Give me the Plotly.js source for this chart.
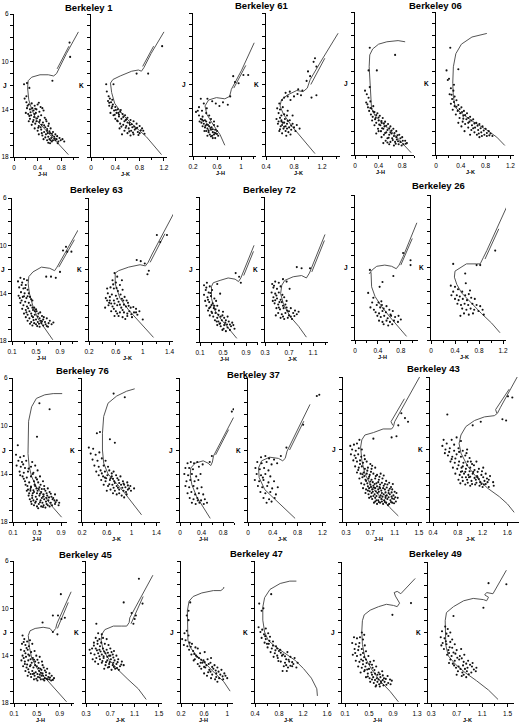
<!DOCTYPE html>
<html><head><meta charset="utf-8">
<script src="https://cdn.plot.ly/plotly-3.0.1.min.js"></script>
<style>html,body{margin:0;padding:0;background:#fff}#c{width:520px;height:726px}</style>
</head><body><div id="c"></div>
<script>
// ---------- DATA (colour, magnitude) ----------
const clusterNames = ['Berkeley 1','Berkeley 61','Berkeley 06','Berkeley 63','Berkeley 72','Berkeley 26','Berkeley 76','Berkeley 37','Berkeley 43','Berkeley 45','Berkeley 47','Berkeley 49'];
const yTickVals = [6,7,8,9,10,11,12,13,14,15,16,17,18];
const yTickText = ['6','','','','10','','','','14','','','','18'];

const B1_J_stars=[[0.21,13.4],[0.25,13.6],[0.30,13.5],[0.35,13.7],[0.40,13.6],[0.45,13.8],[0.48,13.9],[0.22,13.9],[0.27,14.0],[0.33,14.1],[0.38,14.0],[0.43,14.2],[0.50,14.1],[0.20,14.3],[0.24,14.4],[0.29,14.5],[0.35,14.4],[0.41,14.6],[0.46,14.5],[0.52,14.7],[0.27,14.8],[0.33,14.9],[0.38,15.0],[0.44,14.9],[0.49,15.1],[0.55,15.0],[0.30,15.3],[0.36,15.2],[0.42,15.4],[0.47,15.3],[0.53,15.5],[0.58,15.4],[0.62,15.6],[0.35,15.6],[0.40,15.8],[0.46,15.7],[0.51,15.9],[0.56,15.8],[0.61,16.0],[0.66,15.9],[0.70,16.1],[0.42,16.1],[0.48,16.2],[0.54,16.1],[0.58,16.3],[0.63,16.4],[0.68,16.3],[0.72,16.5],[0.77,16.4],[0.50,16.5],[0.56,16.6],[0.60,16.5],[0.64,16.7],[0.70,16.6],[0.75,16.7],[0.82,16.5],[0.58,16.8],[0.62,16.6],[0.37,14.3],[0.31,13.9],[0.25,15.0],[0.45,15.5],[0.57,16.0],[0.66,16.6],[0.18,13.1],[0.21,12.9],[0.17,11.9],[0.22,11.8],[0.26,12.2],[0.65,11.6],[0.94,8.4],[0.95,9.6],
 [0.23,13.7],[0.28,14.25],[0.34,14.65],[0.39,14.75],[0.43,15.05],[0.51,15.35],[0.56,15.65],[0.60,15.85],[0.65,16.2],[0.69,16.45],[0.73,16.25],[0.79,16.6],[0.53,16.35],[0.47,16.0],[0.41,15.55],[0.32,15.05],[0.26,14.55],[0.36,13.95],[0.42,13.45],[0.54,14.85],[0.59,15.2],[0.64,16.05],[0.74,16.85],[0.85,16.7],[0.61,16.85]];
const B1_J_iso=[[0.92,17.8],[0.81,17.2],[0.67,16.5],[0.53,15.7],[0.38,14.9],[0.30,14.0],[0.25,13.2],[0.23,12.2],[0.24,11.6],[0.30,11.3],[0.44,11.1],[0.58,11.1],[0.67,11.2],[0.72,11.0],[0.78,10.4],[0.89,9.3],[1.09,7.5],null,[0.73,10.6],[0.93,8.7]];
const B1_K_stars=[[0.29,12.9],[0.31,13.1],[0.28,13.3],[0.33,13.4],[0.36,13.6],[0.30,13.7],[0.40,13.8],[0.34,13.9],[0.44,14.0],[0.38,14.1],[0.48,14.2],[0.32,14.3],[0.42,14.3],[0.52,14.4],[0.37,14.5],[0.46,14.6],[0.56,14.5],[0.60,14.7],[0.40,14.8],[0.50,14.8],[0.65,14.9],[0.44,15.0],[0.55,15.0],[0.60,15.1],[0.70,15.0],[0.48,15.2],[0.53,15.3],[0.64,15.3],[0.75,15.2],[0.58,15.4],[0.68,15.5],[0.80,15.4],[0.47,15.6],[0.62,15.6],[0.72,15.7],[0.84,15.6],[0.55,15.8],[0.66,15.8],[0.77,15.9],[0.86,15.8],[0.60,16.0],[0.70,16.1],[0.80,16.0],[0.51,16.1],[0.74,15.6],[0.57,14.9],[0.35,13.2],[0.26,12.5],[0.45,14.3],[0.65,16.2],[0.25,11.9],[0.37,11.9],[0.75,11.0],[0.94,11.0],[1.17,8.7],
 [0.30,13.45],[0.35,13.75],[0.41,14.05],[0.46,14.45],[0.53,14.65],[0.58,14.85],[0.63,15.15],[0.67,15.25],[0.71,15.45],[0.76,15.55],[0.82,15.75],[0.63,15.85],[0.57,15.55],[0.50,15.45],[0.43,14.95],[0.39,14.45],[0.49,14.05],[0.69,15.95],[0.78,16.15],[0.88,16.05]];
const B1_K_iso=[[1.16,17.8],[1.05,17.1],[0.91,16.3],[0.69,15.3],[0.53,14.5],[0.39,13.5],[0.34,12.6],[0.32,11.8],[0.36,11.5],[0.48,11.2],[0.67,10.8],[0.78,10.7],[0.83,10.8],[0.87,10.5],[0.99,9.3],[1.20,7.5],null,[0.85,10.4],[1.03,8.7]];

const B61_J_stars=[[0.30,14.6],[0.33,14.9],[0.36,14.7],[0.40,15.0],[0.34,15.2],[0.38,15.3],[0.42,15.1],[0.45,15.4],[0.48,15.2],[0.36,15.5],[0.40,15.6],[0.44,15.7],[0.47,15.5],[0.51,15.6],[0.55,15.4],[0.42,15.9],[0.46,16.0],[0.50,15.8],[0.53,16.0],[0.57,15.8],[0.60,15.9],[0.48,16.2],[0.52,16.3],[0.55,16.2],[0.58,16.1],[0.62,16.3],[0.53,16.5],[0.57,16.5],[0.44,16.3],[0.39,15.9],[0.31,15.1],[0.28,14.2],[0.30,13.9],[0.35,14.2],[0.42,14.4],[0.47,14.6],[0.38,13.6],[0.33,13.2],[0.44,13.2],[0.52,13.4],[0.58,13.6],[0.64,13.8],[0.70,13.5],[0.78,13.7],[0.82,13.0],[0.87,11.3],[0.96,11.9],[1.04,11.2],[1.12,11.2],[0.90,11.8],[0.43,14.0],[0.50,14.9],[0.55,15.1],[0.61,15.5],[0.25,14.3],
 [0.37,15.05],[0.43,15.35],[0.49,15.65],[0.53,15.75],[0.56,16.05],[0.60,16.15],[0.50,16.35],[0.46,15.85],[0.41,15.45],[0.35,14.95]];
const B61_J_iso=[[0.73,17.1],[0.65,16.2],[0.54,15.4],[0.43,14.5],[0.40,13.8],[0.43,13.6],[0.46,13.3],[0.59,13.1],[0.73,13.2],[0.81,13.0],[0.84,12.4],[1.01,10.8],[1.22,8.5],null,[0.88,12.3],[1.08,10.4]];
const B61_K_stars=[[0.56,14.0],[0.58,14.4],[0.60,14.8],[0.62,15.1],[0.57,15.3],[0.61,15.5],[0.65,15.7],[0.59,15.9],[0.64,15.2],[0.67,14.9],[0.70,15.3],[0.73,15.6],[0.68,15.9],[0.72,16.0],[0.76,15.8],[0.66,14.5],[0.70,14.6],[0.74,15.0],[0.78,15.3],[0.80,15.6],[0.84,15.4],[0.88,15.7],[0.63,16.1],[0.69,16.3],[0.60,14.1],[0.64,13.9],[0.59,13.6],[0.63,13.3],[0.66,13.1],[0.71,13.0],[0.75,13.3],[0.80,13.0],[0.85,12.8],[0.90,12.9],[0.68,12.7],[0.74,12.6],[0.86,12.4],[0.92,12.5],[0.98,11.7],[1.03,11.3],[1.08,10.1],[1.10,9.8],[1.12,10.5],[1.00,10.9],[1.12,12.9],[1.05,13.1],[0.55,14.9],[0.62,14.6],[0.68,15.5],[0.75,16.2],[0.82,15.9],[0.58,15.1],[0.71,14.2],[0.78,14.6],
 [0.63,15.4],[0.66,15.55],[0.70,15.7],[0.62,15.0],[0.66,15.2],[0.71,15.05],[0.76,15.45],[0.60,15.75]];
const B61_K_iso=[[1.10,17.8],[0.93,16.6],[0.77,15.5],[0.65,14.5],[0.60,13.8],[0.62,13.3],[0.70,12.9],[0.84,12.5],[0.93,12.6],[0.99,12.3],[1.03,11.6],[1.17,10.2],[1.43,7.7],null,[1.04,12.0],[1.24,9.8]];

const B06_J_stars=[[0.17,12.6],[0.20,12.9],[0.23,13.2],[0.19,13.6],[0.26,13.5],[0.22,14.0],[0.28,14.1],[0.31,13.9],[0.24,14.3],[0.33,14.4],[0.27,14.6],[0.38,14.5],[0.30,14.8],[0.42,14.7],[0.35,14.9],[0.47,14.9],[0.29,15.1],[0.40,15.1],[0.51,15.2],[0.36,15.3],[0.45,15.3],[0.56,15.4],[0.33,15.5],[0.43,15.5],[0.50,15.6],[0.60,15.6],[0.39,15.8],[0.48,15.8],[0.55,15.9],[0.65,15.8],[0.44,16.0],[0.53,16.1],[0.60,16.1],[0.70,16.0],[0.36,16.2],[0.49,16.3],[0.58,16.3],[0.66,16.4],[0.75,16.3],[0.45,16.5],[0.55,16.6],[0.63,16.6],[0.71,16.7],[0.80,16.5],[0.52,16.8],[0.60,16.9],[0.68,16.9],[0.77,16.9],[0.85,16.8],[0.58,17.1],[0.66,17.2],[0.74,17.1],[0.82,17.1],[0.88,17.0],[0.62,16.2],[0.70,16.5],[0.25,12.3],[0.23,10.9],[0.37,10.9],[0.25,9.0],[0.68,9.6],[0.40,16.0],[0.48,17.0],
 [0.21,13.75],[0.26,14.05],[0.31,14.35],[0.36,14.65],[0.40,14.85],[0.45,15.15],[0.49,15.35],[0.53,15.55],[0.58,15.75],[0.62,15.95],[0.67,16.15],[0.72,16.35],[0.77,16.6],[0.81,16.8],[0.86,17.05],[0.64,16.75],[0.57,16.55],[0.51,16.15],[0.46,15.75],[0.41,15.45],[0.34,15.0],[0.73,16.85],[0.79,17.2],[0.69,17.05],[0.55,16.95]];
const B06_J_iso=[[0.95,17.8],[0.79,16.9],[0.65,16.2],[0.48,15.4],[0.34,14.7],[0.28,14.1],[0.27,13.4],[0.25,12.0],[0.24,10.6],[0.25,9.6],[0.30,9.1],[0.40,8.7],[0.54,8.5],[0.73,8.4],[0.85,8.5]];
const B06_K_stars=[[0.17,10.9],[0.21,11.6],[0.19,11.7],[0.36,10.8],[0.23,9.0],[0.24,12.4],[0.28,12.6],[0.22,12.9],[0.30,13.1],[0.26,13.3],[0.33,13.4],[0.24,13.7],[0.36,13.8],[0.30,13.9],[0.41,14.0],[0.27,14.2],[0.35,14.3],[0.45,14.3],[0.39,14.5],[0.50,14.5],[0.32,14.6],[0.44,14.7],[0.55,14.8],[0.38,14.9],[0.49,15.0],[0.60,15.0],[0.43,15.2],[0.54,15.2],[0.65,15.3],[0.47,15.4],[0.58,15.5],[0.70,15.4],[0.52,15.7],[0.63,15.7],[0.75,15.6],[0.41,15.6],[0.57,15.9],[0.68,15.9],[0.80,15.8],[0.62,16.1],[0.73,16.1],[0.85,16.0],[0.66,16.3],[0.78,16.3],[0.88,16.2],[0.70,16.5],[0.82,16.4],[0.46,16.0],[0.55,16.3],[0.36,15.3],[0.29,12.1],
 [0.25,12.95],[0.29,13.55],[0.33,13.95],[0.38,14.15],[0.42,14.4],[0.47,14.65],[0.52,14.9],[0.57,15.1],[0.62,15.35],[0.67,15.55],[0.72,15.75],[0.77,15.95],[0.82,16.15],[0.86,16.35],[0.60,15.75],[0.52,15.3],[0.44,14.95],[0.74,16.4],[0.91,16.4],[0.69,16.2]];
const B06_K_iso=[[1.11,17.2],[0.98,16.5],[0.82,15.9],[0.60,15.2],[0.41,14.5],[0.31,14.0],[0.28,13.1],[0.27,12.0],[0.28,10.6],[0.32,9.5],[0.41,8.7],[0.58,8.1],[0.82,7.8]];

const B63_J_stars=[[0.24,12.7],[0.30,12.8],[0.35,12.9],[0.27,13.1],[0.33,13.3],[0.22,13.5],[0.29,13.6],[0.36,13.7],[0.25,13.9],[0.31,14.0],[0.38,14.0],[0.21,14.2],[0.28,14.3],[0.34,14.4],[0.40,14.3],[0.26,14.6],[0.32,14.7],[0.38,14.8],[0.44,14.6],[0.29,15.0],[0.35,15.1],[0.41,15.0],[0.47,15.2],[0.27,15.3],[0.33,15.4],[0.39,15.5],[0.45,15.4],[0.51,15.5],[0.30,15.7],[0.36,15.8],[0.42,15.7],[0.48,15.8],[0.54,15.7],[0.60,15.9],[0.33,16.0],[0.39,16.1],[0.45,16.0],[0.50,16.2],[0.56,16.1],[0.62,16.2],[0.68,16.1],[0.36,16.3],[0.42,16.4],[0.47,16.5],[0.53,16.4],[0.59,16.5],[0.65,16.4],[0.71,16.5],[0.76,16.6],[0.44,16.7],[0.50,16.6],[0.56,16.8],[0.62,16.7],[0.70,16.8],[0.24,14.8],[0.20,13.0],[0.43,15.9],[0.58,16.3],[0.48,15.5],[0.67,12.6],[0.75,12.6],[0.83,12.7],[0.90,12.2],[0.95,10.4],[1.02,10.5],[1.09,10.5],[1.00,10.1],
 [0.26,13.3],[0.32,13.55],[0.30,14.25],[0.36,14.25],[0.42,14.5],[0.37,15.25],[0.44,15.2],[0.50,15.35],[0.53,15.95],[0.57,15.6],[0.63,16.0],[0.66,16.6],[0.73,16.3],[0.79,16.45],[0.40,16.55],[0.52,16.75],[0.60,16.35],[0.46,16.25],[0.34,15.6],[0.23,14.4],[0.55,16.55],[0.68,16.75]];
const B63_J_iso=[[0.78,17.9],[0.67,17.1],[0.53,16.1],[0.45,15.1],[0.39,14.0],[0.37,13.2],[0.38,12.6],[0.45,12.2],[0.59,11.8],[0.73,11.9],[0.81,12.1],[0.85,11.8],[0.92,11.2],[1.20,8.7],null,[0.88,11.8],[1.14,9.5]];
const B63_K_stars=[[0.58,12.3],[0.62,12.6],[0.55,12.9],[0.60,13.1],[0.66,13.3],[0.52,13.5],[0.57,13.6],[0.63,13.8],[0.70,13.7],[0.48,14.0],[0.54,14.1],[0.60,14.2],[0.67,14.1],[0.73,14.3],[0.45,14.4],[0.51,14.6],[0.57,14.6],[0.64,14.7],[0.71,14.6],[0.78,14.8],[0.49,15.0],[0.55,15.1],[0.62,15.0],[0.68,15.2],[0.75,15.1],[0.82,15.2],[0.90,15.3],[0.53,15.5],[0.60,15.5],[0.66,15.6],[0.72,15.6],[0.80,15.5],[0.87,15.6],[0.95,15.5],[0.58,15.9],[0.64,15.9],[0.70,16.0],[0.77,15.9],[0.84,16.0],[0.92,15.8],[0.47,13.6],[0.50,14.8],[0.44,15.2],[0.69,12.9],[0.91,11.2],[0.97,11.3],[1.03,11.5],[1.09,12.1],[1.07,12.4],[1.21,9.1],[1.36,9.1],[1.26,9.7],[1.00,16.2],
 [0.56,13.25],[0.61,13.55],[0.51,14.3],[0.62,14.45],[0.69,14.45],[0.76,14.6],[0.58,14.85],[0.66,14.95],[0.72,14.95],[0.79,15.05],[0.86,15.15],[0.57,15.3],[0.70,15.4],[0.77,15.7],[0.83,15.75],[0.90,15.6],[0.62,15.7],[0.74,16.15],[0.53,14.85],[0.47,14.6]];
const B63_K_iso=[[1.16,17.7],[0.96,16.5],[0.79,15.4],[0.66,14.4],[0.59,13.2],[0.59,12.3],[0.64,12.1],[0.79,11.8],[0.96,11.6],[1.04,11.7],[1.08,11.4],[1.14,10.7],[1.46,7.3],null,[1.11,11.4],[1.33,9.0]];

const B72_J_stars=[[0.17,13.3],[0.22,13.1],[0.27,13.4],[0.20,13.7],[0.25,13.9],[0.31,13.7],[0.17,14.1],[0.23,14.3],[0.29,14.2],[0.35,14.4],[0.19,14.6],[0.26,14.7],[0.32,14.8],[0.38,14.6],[0.21,15.0],[0.28,15.1],[0.34,15.2],[0.40,15.0],[0.24,15.4],[0.30,15.5],[0.37,15.6],[0.43,15.4],[0.50,15.5],[0.27,15.8],[0.33,15.9],[0.40,16.0],[0.46,15.9],[0.52,16.0],[0.58,15.9],[0.36,16.2],[0.42,16.3],[0.48,16.2],[0.54,16.4],[0.60,16.3],[0.66,16.4],[0.40,16.6],[0.46,16.7],[0.52,16.6],[0.58,16.8],[0.64,16.7],[0.70,16.9],[0.49,17.0],[0.55,17.1],[0.62,17.0],[0.45,14.0],[0.40,13.2],[0.35,15.0],[0.44,16.5],[0.72,12.3],[0.78,12.6],[0.81,13.1],
 [0.21,13.5],[0.28,13.95],[0.24,14.5],[0.30,14.95],[0.37,15.3],[0.42,15.75],[0.49,15.8],[0.55,16.2],[0.62,16.55],[0.68,16.6],[0.51,16.9],[0.57,16.55],[0.45,16.45],[0.39,16.3],[0.31,15.6],[0.26,15.2]];
const B72_J_iso=[[0.74,17.7],[0.62,17.0],[0.48,16.2],[0.36,15.4],[0.30,14.4],[0.30,13.4],[0.33,13.1],[0.45,12.9],[0.59,12.7],[0.71,12.8],[0.77,13.0],[0.81,12.7],[0.85,12.2],[1.04,10.0],null,[0.86,12.5],[1.03,10.5]];
const B72_K_stars=[[0.42,13.2],[0.47,13.0],[0.53,13.1],[0.44,13.5],[0.50,13.6],[0.56,13.4],[0.41,13.9],[0.47,14.0],[0.53,13.9],[0.59,14.1],[0.44,14.3],[0.50,14.4],[0.56,14.5],[0.62,14.3],[0.46,14.8],[0.52,14.9],[0.58,14.7],[0.64,14.9],[0.49,15.2],[0.55,15.3],[0.61,15.2],[0.67,15.4],[0.73,15.2],[0.52,15.6],[0.58,15.7],[0.64,15.6],[0.70,15.8],[0.77,15.6],[0.83,15.7],[0.56,16.0],[0.62,16.1],[0.68,16.0],[0.75,16.1],[0.48,15.8],[0.43,14.6],[0.66,13.0],[0.60,12.8],[0.83,11.8],[0.91,11.9],[1.05,11.9],[0.71,13.6],[0.66,14.6],[0.80,15.4],
 [0.45,13.35],[0.49,14.15],[0.54,14.7],[0.60,15.0],[0.66,15.15],[0.70,15.45],[0.60,15.9],[0.73,15.9],[0.79,15.85],[0.53,15.15],[0.47,14.55],[0.86,15.5]];
const B72_K_iso=[[0.99,17.6],[0.86,16.7],[0.72,15.9],[0.61,14.9],[0.56,14.0],[0.58,13.3],[0.63,12.9],[0.77,12.6],[0.91,12.5],[0.99,12.7],[1.04,12.3],[1.08,11.8],[1.30,9.1],null,[1.08,12.2],[1.29,9.6]];

const B26_J_stars=[[0.23,14.1],[0.30,14.9],[0.27,15.3],[0.33,15.5],[0.38,15.1],[0.41,14.9],[0.46,14.8],[0.44,15.3],[0.50,15.4],[0.36,15.7],[0.42,15.8],[0.48,15.6],[0.54,15.7],[0.60,15.5],[0.66,15.6],[0.39,16.0],[0.45,16.1],[0.51,16.0],[0.57,16.2],[0.63,16.0],[0.70,16.1],[0.76,16.0],[0.42,16.4],[0.48,16.5],[0.55,16.4],[0.61,16.5],[0.68,16.4],[0.75,16.5],[0.80,16.3],[0.50,16.7],[0.58,16.8],[0.65,16.7],[0.55,15.2],[0.47,15.1],[0.26,12.2],[0.48,13.2],[0.43,13.6],[0.67,12.7],[0.97,11.4],[0.97,11.8],[0.84,10.8],[0.32,14.5],[0.62,15.9]];
const B26_J_iso=[[0.90,17.7],[0.75,16.9],[0.61,16.1],[0.46,15.2],[0.35,14.4],[0.29,13.6],[0.28,12.8],[0.28,12.4],[0.25,12.5],[0.30,12.2],[0.38,11.9],[0.52,11.8],[0.64,11.9],[0.72,12.1],[0.77,11.8],[0.84,11.1],[1.08,8.3],null,[0.80,11.8],[1.00,9.6]];
const B26_K_stars=[[0.33,13.5],[0.40,13.6],[0.45,13.8],[0.37,14.0],[0.52,14.0],[0.34,14.3],[0.43,14.3],[0.48,14.4],[0.57,14.3],[0.63,14.2],[0.40,14.6],[0.46,14.7],[0.53,14.6],[0.60,14.7],[0.67,14.5],[0.73,14.6],[0.44,15.0],[0.50,15.1],[0.56,15.0],[0.62,15.1],[0.69,15.0],[0.76,15.1],[0.82,15.2],[0.52,15.4],[0.59,15.5],[0.66,15.4],[0.72,15.5],[0.79,15.6],[0.86,15.5],[0.55,15.8],[0.63,15.9],[0.70,15.8],[0.49,16.0],[0.37,11.7],[0.57,12.5],[0.76,11.8],[0.82,11.8],[1.07,10.6],[0.58,13.3],[0.65,13.9],[0.88,15.9]];
const B26_K_iso=[[1.15,17.4],[1.01,16.6],[0.84,15.8],[0.68,15.0],[0.51,14.1],[0.43,13.4],[0.39,12.8],[0.40,12.3],[0.46,12.1],[0.59,11.7],[0.76,11.7],[0.82,11.7],[0.87,11.2],[0.93,10.6],[1.26,7.0],null,[0.90,11.3],[1.13,8.8]];

const B76_J_stars=[[0.18,11.6],[0.50,10.9],[0.54,8.1],[0.71,8.6],[0.15,12.4],[0.22,12.6],[0.28,12.5],[0.19,12.9],[0.25,13.0],[0.32,12.9],[0.42,13.0],[0.16,13.3],[0.23,13.4],[0.30,13.5],[0.40,13.4],[0.47,13.3],[0.21,13.8],[0.28,13.9],[0.35,13.8],[0.44,13.9],[0.51,13.7],[0.26,14.2],[0.33,14.3],[0.40,14.2],[0.48,14.3],[0.55,14.2],[0.30,14.6],[0.37,14.7],[0.45,14.6],[0.52,14.7],[0.60,14.6],[0.34,15.0],[0.40,15.1],[0.47,15.0],[0.54,15.1],[0.62,15.0],[0.68,15.2],[0.33,15.4],[0.39,15.4],[0.45,15.5],[0.51,15.4],[0.57,15.5],[0.64,15.4],[0.71,15.5],[0.36,15.8],[0.42,15.8],[0.48,15.9],[0.54,15.8],[0.60,15.9],[0.67,15.8],[0.74,15.9],[0.80,15.7],[0.38,16.1],[0.44,16.2],[0.50,16.1],[0.56,16.2],[0.62,16.1],[0.69,16.2],[0.76,16.1],[0.83,16.2],[0.41,16.5],[0.47,16.4],[0.53,16.5],[0.59,16.4],[0.66,16.5],[0.73,16.4],[0.80,16.5],[0.87,16.4],[0.50,16.7],[0.57,16.7],[0.64,16.8],[0.71,16.7],[0.43,15.6],[0.49,15.2],[0.58,16.0],[0.65,16.3],[0.40,16.3],[0.46,14.9],[0.28,14.4],[0.35,15.3],
 [0.39,15.25],[0.44,15.35],[0.50,15.6],[0.55,15.65],[0.61,15.7],[0.66,15.6],[0.70,15.95],[0.77,16.0],[0.81,16.35],[0.75,16.6],[0.68,16.6],[0.61,16.6],[0.55,16.35],[0.48,16.3],[0.42,16.0],[0.37,15.6],[0.45,16.6],[0.52,16.85],[0.60,16.75],[0.86,16.6],[0.62,15.25],[0.56,14.9],[0.50,14.45],[0.43,14.0],[0.36,13.55],[0.27,13.2],[0.22,14.1],[0.31,14.9],[0.58,15.25],[0.73,15.65],[0.79,16.2],[0.66,16.0],[0.40,15.05],[0.53,15.25]];
const B76_J_iso=[[0.91,17.6],[0.77,16.8],[0.63,15.9],[0.49,15.1],[0.41,14.2],[0.37,13.4],[0.35,12.3],[0.35,10.9],[0.36,9.6],[0.41,8.4],[0.49,7.7],[0.63,7.4],[0.77,7.3],[0.92,7.3]];
const B76_K_stars=[[0.71,7.3],[0.89,7.6],[0.44,10.6],[0.49,10.5],[0.73,11.4],[0.65,11.1],[0.31,11.8],[0.38,11.9],[0.34,12.3],[0.42,12.4],[0.48,12.2],[0.37,12.8],[0.45,12.9],[0.52,12.7],[0.58,12.9],[0.40,13.3],[0.47,13.4],[0.55,13.3],[0.62,13.4],[0.43,13.8],[0.50,13.7],[0.57,13.8],[0.64,13.7],[0.71,13.8],[0.47,14.1],[0.54,14.2],[0.61,14.1],[0.68,14.2],[0.75,14.1],[0.82,14.2],[0.51,14.5],[0.58,14.6],[0.65,14.5],[0.72,14.6],[0.79,14.5],[0.86,14.6],[0.93,14.7],[0.55,14.9],[0.62,15.0],[0.69,14.9],[0.76,15.0],[0.83,14.9],[0.90,15.1],[0.98,15.0],[0.66,15.3],[0.73,15.4],[0.80,15.3],[0.87,15.4],[0.94,15.3],[1.04,15.2],[0.76,15.7],[0.84,15.8],[0.92,15.7],[0.60,15.4],[0.70,14.4],[0.88,14.9],
 [0.59,14.35],[0.66,14.35],[0.73,14.75],[0.80,14.75],[0.87,14.8],[0.94,14.95],[0.71,15.15],[0.78,15.15],[0.85,15.15],[0.91,15.5],[0.99,15.4],[0.70,15.6],[0.80,15.6],[0.88,15.95],[0.64,14.85],[0.57,14.3],[0.52,13.95],[0.68,13.95],[0.77,14.35],[0.96,15.2]];
const B76_K_iso=[[1.16,17.4],[1.03,16.5],[0.89,15.6],[0.76,14.8],[0.62,14.0],[0.55,13.1],[0.53,12.0],[0.53,10.6],[0.55,9.2],[0.62,8.1],[0.76,7.5],[0.92,7.1],[1.05,6.9]];

const B37_J_stars=[[0.14,13.1],[0.20,13.0],[0.26,13.1],[0.32,13.0],[0.10,13.5],[0.17,13.5],[0.24,13.6],[0.35,13.4],[0.42,13.2],[0.08,14.0],[0.15,14.1],[0.22,14.0],[0.30,14.2],[0.38,14.0],[0.12,14.6],[0.19,14.5],[0.27,14.6],[0.34,14.5],[0.10,15.0],[0.17,15.1],[0.25,15.0],[0.32,15.2],[0.40,15.1],[0.14,15.6],[0.21,15.5],[0.28,15.7],[0.35,15.6],[0.43,15.7],[0.18,16.0],[0.25,16.1],[0.32,16.0],[0.39,16.2],[0.46,16.1],[0.22,16.4],[0.29,16.5],[0.36,16.4],[0.44,16.5],[0.50,16.4],[0.33,16.2],[0.59,12.5],[0.55,13.0],[0.96,8.8],[0.99,8.6]];
const B37_J_iso=[[0.56,17.7],[0.43,16.8],[0.31,15.9],[0.22,14.9],[0.19,14.1],[0.20,13.5],[0.28,13.1],[0.43,12.9],[0.52,13.1],[0.57,13.3],[0.60,13.0],[0.62,12.5],[0.99,9.3],null,[0.66,12.4],[0.90,10.3]];
const B37_K_stars=[[0.21,12.6],[0.28,12.5],[0.34,12.7],[0.42,12.8],[0.15,13.0],[0.22,13.1],[0.30,13.0],[0.38,13.2],[0.47,13.1],[0.12,13.5],[0.19,13.6],[0.26,13.5],[0.33,13.7],[0.14,14.0],[0.21,14.1],[0.28,14.0],[0.36,14.2],[0.11,14.5],[0.18,14.6],[0.25,14.5],[0.33,14.7],[0.42,14.6],[0.16,15.0],[0.23,15.1],[0.31,15.0],[0.39,15.2],[0.48,15.1],[0.20,15.5],[0.28,15.6],[0.36,15.5],[0.45,15.7],[0.25,16.0],[0.34,16.1],[0.43,16.0],[0.30,16.4],[0.38,16.3],[0.24,14.3],[1.11,7.5],[1.15,7.4],[0.62,11.8],[0.89,9.9],[0.53,12.5]];
const B37_K_iso=[[0.76,17.7],[0.62,17.0],[0.44,16.1],[0.27,15.3],[0.18,14.3],[0.17,13.5],[0.22,12.9],[0.35,12.6],[0.49,12.7],[0.56,12.9],[0.60,12.7],[0.63,12.1],[1.00,8.2],null,[0.67,12.0],[0.90,9.6]];

const B43_J_stars=[[1.21,9.0],[1.27,9.4],[1.32,9.7],[1.16,10.0],[1.05,11.0],[1.13,10.9],[0.75,11.1],[0.37,11.7],[0.43,11.6],[0.48,11.5],[0.52,11.2],[0.40,12.0],[0.46,12.1],[0.51,11.9],[0.56,12.0],[0.38,12.4],[0.44,12.5],[0.50,12.4],[0.55,12.6],[0.60,12.5],[0.42,12.9],[0.48,13.0],[0.53,12.9],[0.58,13.1],[0.64,13.0],[0.70,13.2],[0.45,13.4],[0.51,13.5],[0.56,13.4],[0.61,13.6],[0.66,13.5],[0.72,13.6],[0.78,13.5],[0.48,13.9],[0.54,14.0],[0.59,13.9],[0.64,14.0],[0.69,14.1],[0.75,14.0],[0.81,14.1],[0.87,14.0],[0.52,14.4],[0.57,14.3],[0.62,14.5],[0.67,14.4],[0.72,14.5],[0.78,14.4],[0.84,14.5],[0.90,14.4],[0.96,14.6],[0.55,14.8],[0.60,14.9],[0.65,14.8],[0.70,14.9],[0.75,15.0],[0.80,14.8],[0.86,14.9],[0.92,15.0],[0.98,14.9],[1.04,15.1],[0.58,15.2],[0.63,15.3],[0.68,15.2],[0.73,15.3],[0.78,15.2],[0.83,15.3],[0.88,15.4],[0.94,15.3],[1.00,15.4],[1.06,15.3],[0.62,15.6],[0.67,15.7],[0.72,15.6],[0.77,15.7],[0.82,15.6],[0.87,15.8],[0.92,15.7],[0.97,15.8],[1.02,15.7],[1.08,15.8],[1.13,15.6],[0.68,16.0],[0.73,16.1],[0.78,16.0],[0.83,16.2],[0.88,16.1],[0.93,16.2],[0.98,16.1],[1.03,16.2],[1.09,16.1],[1.15,16.0],[0.76,16.4],[0.81,16.5],[0.86,16.4],[0.91,16.5],[0.96,16.4],[1.01,16.5],[1.06,16.4],[1.12,16.3],[0.66,15.4],[0.71,15.9],[0.85,15.1],[0.95,16.0],[1.05,15.9],[0.60,14.2],[0.74,14.7],[0.89,16.3],[0.99,16.6],[0.80,16.2],
 [0.66,15.05],[0.71,15.1],[0.76,15.15],[0.81,15.05],[0.86,15.2],[0.91,15.2],[0.97,15.15],[1.02,15.25],[0.69,15.45],[0.74,15.5],[0.79,15.45],[0.84,15.5],[0.89,15.6],[0.95,15.55],[1.00,15.6],[1.05,15.55],[1.10,15.5],[0.75,15.85],[0.80,15.85],[0.85,15.95],[0.90,15.9],[0.95,15.85],[1.00,15.95],[1.06,16.05],[1.11,15.95],[0.78,16.3],[0.84,16.35],[0.94,16.35],[1.04,16.35],[1.09,16.45],[0.70,14.65],[0.77,14.85],[0.83,14.7],[0.89,14.75],[0.94,14.85],[0.63,14.6],[0.57,14.05],[0.65,13.75],[0.71,13.85],[0.53,13.2],[0.46,12.7],[0.50,13.7],[0.68,14.25],[0.79,14.2],[0.85,14.25],[0.92,14.15],[1.01,14.75],[1.07,14.85],[0.73,13.35],[0.61,12.8]];
const B43_J_iso=[[1.16,17.5],[1.02,16.8],[0.86,15.9],[0.72,15.1],[0.61,14.0],[0.56,12.9],[0.54,11.8],[0.56,11.2],[0.61,10.8],[0.75,10.6],[0.91,10.3],[1.05,10.3],[1.08,10.1],[1.10,9.7],[1.51,6.0],null,[1.07,10.0],[1.04,9.7],[1.26,7.8]];
const B43_K_stars=[[0.63,9.1],[1.04,10.0],[1.17,9.7],[1.52,9.5],[1.58,9.6],[1.68,7.7],[1.61,7.6],[0.57,11.2],[0.55,11.7],[0.62,11.5],[0.70,11.2],[0.78,11.0],[0.85,11.3],[0.60,12.0],[0.67,11.9],[0.74,12.1],[0.81,11.9],[0.88,12.1],[0.95,12.0],[0.64,12.5],[0.71,12.6],[0.78,12.4],[0.85,12.6],[0.92,12.5],[0.99,12.7],[0.68,13.0],[0.75,13.1],[0.82,13.0],[0.89,13.1],[0.96,13.0],[1.03,13.2],[1.10,13.0],[0.72,13.5],[0.79,13.6],[0.86,13.5],[0.93,13.6],[1.00,13.5],[1.07,13.7],[1.14,13.6],[1.21,13.5],[0.76,14.0],[0.83,14.1],[0.90,14.0],[0.97,14.1],[1.04,14.0],[1.11,14.2],[1.18,14.1],[1.25,14.0],[1.32,14.2],[0.81,14.5],[0.88,14.6],[0.95,14.5],[1.02,14.6],[1.09,14.5],[1.16,14.7],[1.23,14.6],[1.30,14.5],[1.37,14.7],[0.92,14.9],[1.00,15.0],[1.08,14.9],[1.15,15.0],[1.22,14.9],[1.30,15.1],[1.38,15.0],[0.70,12.8],[0.87,13.8],[0.98,14.3],[1.12,14.3],[1.06,13.3],[0.94,12.3],[0.59,12.3],[1.27,14.4],[1.20,15.1],[0.84,14.8],
 [0.85,13.85],[0.92,13.85],[0.99,13.8],[1.05,13.85],[1.12,13.85],[1.19,13.8],[0.87,14.3],[0.93,14.3],[1.00,14.25],[1.07,14.35],[1.14,14.45],[1.21,14.3],[1.28,14.7],[0.96,14.75],[1.03,14.85],[1.10,14.75],[1.18,14.85],[1.25,14.85],[0.81,13.3],[0.88,13.4],[0.95,13.3],[1.01,13.0],[0.76,12.75],[0.82,12.2],[0.74,11.6],[0.66,12.2]];
const B43_K_iso=[[1.71,17.2],[1.60,16.5],[1.47,15.9],[1.28,15.2],[1.12,14.4],[0.96,13.4],[0.85,12.3],[0.82,11.5],[0.85,10.8],[0.93,10.1],[1.07,9.6],[1.23,9.3],[1.39,9.2],[1.44,9.0],[1.49,8.5],[1.77,5.9],null,[1.43,9.0],[1.41,8.7],[1.63,7.0]];

const B45_J_stars=[[0.92,8.8],[0.78,10.6],[0.87,10.6],[0.93,10.9],[0.99,10.8],[0.60,11.2],[0.25,12.3],[0.78,12.0],[0.86,12.2],[0.28,12.6],[0.33,12.8],[0.38,12.7],[0.24,13.0],[0.30,13.1],[0.36,13.2],[0.42,13.0],[0.22,13.5],[0.28,13.6],[0.34,13.5],[0.40,13.7],[0.46,13.6],[0.25,14.0],[0.31,14.1],[0.37,14.0],[0.43,14.2],[0.49,14.0],[0.55,14.1],[0.23,14.4],[0.29,14.5],[0.35,14.4],[0.41,14.6],[0.47,14.5],[0.53,14.6],[0.59,14.5],[0.26,14.9],[0.32,15.0],[0.38,14.9],[0.44,15.0],[0.50,14.9],[0.56,15.1],[0.62,15.0],[0.68,15.1],[0.30,15.3],[0.36,15.4],[0.42,15.3],[0.48,15.4],[0.54,15.3],[0.60,15.5],[0.66,15.4],[0.72,15.5],[0.34,15.7],[0.40,15.8],[0.46,15.7],[0.52,15.8],[0.58,15.7],[0.64,15.9],[0.70,15.8],[0.76,15.7],[0.80,15.9],[0.45,16.0],[0.51,16.1],[0.57,16.0],[0.63,16.1],[0.69,16.0],[0.75,16.1],[0.39,14.8],[0.45,15.5],[0.61,15.7],[0.27,14.2],[0.35,13.9],[0.55,15.6],
 [0.30,13.8],[0.39,14.3],[0.33,14.75],[0.47,14.8],[0.53,15.05],[0.58,15.2],[0.64,15.25],[0.39,15.55],[0.51,15.55],[0.57,15.45],[0.66,15.65],[0.73,15.85],[0.49,15.95],[0.55,15.85],[0.61,16.0],[0.67,15.95],[0.72,16.0],[0.78,16.05],[0.43,15.55],[0.35,15.15],[0.29,14.7],[0.32,13.35],[0.27,12.85],[0.45,14.35],[0.51,14.35],[0.60,14.8]];
const B45_J_iso=[[1.02,17.9],[0.87,17.1],[0.70,16.2],[0.52,15.2],[0.41,14.2],[0.37,13.3],[0.35,12.3],[0.38,11.9],[0.47,11.7],[0.61,11.6],[0.73,11.7],[0.78,12.0],[0.83,11.7],[0.85,11.3],[1.10,8.6],null,[0.86,11.7],[1.05,9.5]];
const B45_K_stars=[[1.17,7.5],[0.92,9.5],[1.23,9.6],[1.05,10.4],[1.10,10.9],[1.08,11.3],[1.12,10.6],[0.47,11.3],[0.50,12.1],[0.56,12.2],[0.46,12.5],[0.52,12.6],[0.58,12.5],[0.64,12.6],[0.43,12.9],[0.49,13.0],[0.55,12.9],[0.61,13.0],[0.67,13.1],[0.40,13.4],[0.46,13.4],[0.52,13.5],[0.58,13.4],[0.64,13.5],[0.70,13.4],[0.76,13.6],[0.38,13.8],[0.44,13.9],[0.50,13.8],[0.56,13.9],[0.62,13.8],[0.68,14.0],[0.74,13.9],[0.80,14.0],[0.41,14.3],[0.47,14.2],[0.53,14.3],[0.59,14.2],[0.65,14.4],[0.71,14.3],[0.77,14.4],[0.83,14.3],[0.89,14.5],[0.50,14.7],[0.56,14.6],[0.62,14.8],[0.68,14.7],[0.74,14.8],[0.80,14.7],[0.86,14.9],[0.92,14.8],[0.60,15.1],[0.66,15.0],[0.72,15.2],[0.78,15.1],[0.84,15.2],[0.45,14.5],[0.53,13.2],[0.70,14.0],[0.36,13.5],
 [0.48,13.55],[0.54,13.65],[0.60,13.65],[0.66,13.75],[0.72,13.7],[0.52,14.05],[0.59,14.05],[0.65,14.1],[0.75,14.15],[0.57,14.45],[0.63,14.55],[0.69,14.55],[0.75,14.6],[0.82,14.55],[0.88,14.75],[0.68,14.95],[0.76,14.95],[0.81,15.05],[0.43,13.15],[0.49,12.75]];
const B45_K_iso=[[1.29,17.7],[1.16,16.8],[0.99,16.0],[0.83,15.2],[0.69,14.4],[0.58,13.5],[0.55,12.7],[0.56,12.2],[0.61,11.8],[0.75,11.5],[0.88,11.5],[0.97,11.5],[1.01,11.2],[1.02,10.8],[1.40,7.2],null,[1.04,11.3],[1.24,9.0]];

const B47_J_stars=[[0.36,9.5],[0.33,10.2],[0.30,10.6],[0.33,11.0],[0.30,11.9],[0.26,12.1],[0.33,12.3],[0.22,12.6],[0.28,12.7],[0.35,12.9],[0.25,13.1],[0.31,13.2],[0.39,13.0],[0.45,13.3],[0.34,13.5],[0.41,13.6],[0.49,13.4],[0.38,13.9],[0.46,14.0],[0.53,13.8],[0.61,13.7],[0.44,14.3],[0.51,14.2],[0.59,14.4],[0.66,14.3],[0.72,14.2],[0.49,14.7],[0.57,14.6],[0.64,14.8],[0.71,14.6],[0.78,14.8],[0.55,15.1],[0.62,15.0],[0.69,15.2],[0.76,15.1],[0.83,15.0],[0.90,15.2],[0.60,15.5],[0.67,15.4],[0.74,15.6],[0.81,15.5],[0.88,15.6],[0.95,15.5],[0.72,15.9],[0.79,16.0],[0.86,15.9],[0.93,16.0],[1.00,15.9],[0.83,16.2],[0.65,15.7],[0.52,14.9],[0.42,14.4],
 [0.37,13.25],[0.43,13.85],[0.48,14.1],[0.55,14.35],[0.61,14.55],[0.68,14.7],[0.74,14.95],[0.80,15.25],[0.85,15.35],[0.92,15.75],[0.97,15.7],[0.71,15.35],[0.60,14.95],[0.54,14.6],[0.81,15.8]];
const B47_J_iso=[[1.05,17.0],[0.94,16.2],[0.79,15.5],[0.65,14.8],[0.47,14.0],[0.36,13.3],[0.32,12.7],[0.31,11.6],[0.31,10.2],[0.34,9.4],[0.41,9.0],[0.56,8.7],[0.76,8.5],[0.89,8.5],[0.94,8.3],[0.94,8.2]];
const B47_K_stars=[[0.67,8.8],[0.47,9.6],[0.51,10.2],[0.54,10.0],[0.46,11.6],[0.52,11.8],[0.58,11.7],[0.49,12.0],[0.55,12.2],[0.62,12.1],[0.51,12.5],[0.58,12.6],[0.65,12.4],[0.56,12.9],[0.63,13.0],[0.70,12.8],[0.61,13.3],[0.68,13.4],[0.75,13.2],[0.82,13.5],[0.66,13.7],[0.73,13.8],[0.80,13.6],[0.87,13.9],[0.94,13.7],[0.71,14.1],[0.78,14.2],[0.85,14.0],[0.92,14.3],[0.99,14.1],[1.06,14.2],[0.83,14.5],[0.90,14.6],[0.97,14.5],[1.04,14.7],[1.11,14.6],[0.88,14.9],[0.95,15.0],[1.02,14.9],[1.09,15.0],[0.86,15.3],[0.93,15.3],[0.60,13.0],[0.77,14.0],
 [0.57,12.35],[0.64,12.75],[0.70,13.15],[0.77,13.4],[0.83,13.75],[0.90,14.05],[0.96,14.35],[1.02,14.55],[0.92,14.8],[0.99,14.85],[0.79,14.45],[0.74,13.55]];
const B47_K_iso=[[1.44,17.4],[1.43,16.8],[1.34,15.9],[1.21,15.1],[1.07,14.4],[0.90,13.8],[0.73,13.2],[0.62,12.7],[0.56,12.0],[0.53,11.0],[0.53,9.9],[0.56,9.1],[0.65,8.4],[0.82,7.9],[0.98,7.7],[1.09,7.7]];

const B49_J_stars=[[1.20,9.5],[0.89,10.5],[0.38,12.0],[0.42,12.2],[0.35,12.4],[0.25,12.4],[0.30,12.5],[0.40,12.6],[0.22,12.9],[0.28,13.0],[0.34,12.9],[0.43,13.1],[0.26,13.4],[0.32,13.5],[0.38,13.4],[0.45,13.6],[0.23,13.9],[0.30,14.0],[0.36,13.9],[0.42,14.1],[0.49,14.0],[0.28,14.4],[0.34,14.5],[0.40,14.4],[0.46,14.6],[0.52,14.5],[0.58,14.4],[0.32,14.9],[0.38,15.0],[0.44,14.9],[0.50,15.1],[0.56,15.0],[0.62,14.9],[0.36,15.4],[0.42,15.3],[0.48,15.5],[0.54,15.4],[0.60,15.5],[0.66,15.4],[0.72,15.3],[0.45,15.8],[0.51,15.9],[0.57,15.8],[0.63,15.9],[0.69,15.8],[0.75,15.9],[0.81,15.7],[0.52,16.2],[0.58,16.3],[0.64,16.2],[0.70,16.3],[0.76,16.2],[0.82,16.3],[0.88,16.1],[0.62,16.5],[0.68,16.6],[0.74,16.5],[0.55,15.6],[0.66,16.0],[0.40,14.7],
 [0.33,13.2],[0.40,13.75],[0.45,14.3],[0.51,14.7],[0.55,14.75],[0.59,15.2],[0.64,15.6],[0.68,15.55],[0.73,15.65],[0.78,15.95],[0.85,16.0],[0.73,16.05],[0.60,16.05],[0.55,16.0],[0.48,15.75],[0.67,16.4],[0.79,16.45],[0.86,16.4],[0.61,16.6],[0.43,15.2],[0.37,14.3],[0.27,13.75],[0.47,15.15],[0.70,16.15]];
const B49_J_iso=[[0.99,17.9],[0.85,17.0],[0.68,16.1],[0.54,15.1],[0.43,14.1],[0.39,13.0],[0.38,11.9],[0.39,11.0],[0.42,10.5],[0.52,10.1],[0.66,9.8],[0.79,9.6],[0.91,9.7],[0.97,9.8],[1.01,9.5],[0.94,8.9],[0.92,8.6],[0.97,8.5],[1.03,8.7],[1.27,7.4]];
const B49_K_stars=[[1.20,7.8],[1.48,7.9],[1.12,9.9],[0.65,10.6],[0.52,11.5],[0.56,11.7],[0.47,11.9],[0.54,12.1],[0.60,12.0],[0.45,12.4],[0.51,12.5],[0.57,12.3],[0.63,12.6],[0.48,12.9],[0.54,13.0],[0.60,12.8],[0.67,13.0],[0.50,13.4],[0.57,13.5],[0.63,13.3],[0.70,13.5],[0.77,13.4],[0.55,13.9],[0.62,14.0],[0.68,13.8],[0.75,14.0],[0.82,13.9],[0.60,14.3],[0.67,14.4],[0.74,14.3],[0.81,14.5],[0.88,14.4],[0.95,14.6],[0.66,14.8],[0.73,14.9],[0.80,14.8],[0.87,15.0],[0.94,14.9],[1.01,15.0],[0.72,15.3],[0.79,15.4],[0.86,15.3],[0.93,15.4],[1.00,15.3],[0.78,15.7],[0.85,15.8],[0.70,15.6],[0.58,14.6],[0.46,13.1],
 [0.53,12.75],[0.59,13.25],[0.65,13.7],[0.71,14.15],[0.78,14.2],[0.85,14.65],[0.91,14.75],[0.97,15.15],[0.83,15.1],[0.76,15.1],[0.69,15.0],[0.89,15.55],[0.81,15.6],[0.64,14.65],[0.58,13.75]];
const B49_K_iso=[[1.35,17.7],[1.20,16.9],[1.01,16.1],[0.83,15.4],[0.68,14.7],[0.57,14.0],[0.53,13.1],[0.52,11.9],[0.52,11.0],[0.54,10.3],[0.65,9.8],[0.81,9.3],[0.96,9.1],[1.12,9.2],[1.17,9.3],[1.20,9.0],[1.14,8.8],[1.17,8.6],[1.27,8.7],[1.48,6.7]];

// ---------- LAYOUT (pixel geometry of each panel) ----------
const W=520,H=726;
const clusters=[
 {t:0,tx:89,ty:7, first:true,
  J:{s:B1_J_stars,i:B1_J_iso,px:[14,79],py:[14,157],xr:[0,1.1],t0:0},
  K:{s:B1_K_stars,i:B1_K_iso,px:[91,167],py:[14,157],xr:[0,1.25],t0:0}},
 {t:1,tx:262,ty:6,
  J:{s:B61_J_stars,i:B61_J_iso,px:[193,256],py:[13,156],xr:[0.2,1.25],t0:0.2},
  K:{s:B61_K_stars,i:B61_K_iso,px:[266,339.5],py:[13,156],xr:[0.4,1.45],t0:0.4}},
 {t:2,tx:435,ty:6,
  J:{s:B06_J_stars,i:B06_J_iso,px:[355,414],py:[12,155],xr:[0,1.0],t0:0},
  K:{s:B06_K_stars,i:B06_K_iso,px:[436,513.5],py:[12,155],xr:[0,1.25],t0:0}},
 {t:3,tx:96,ty:189, first:true,
  J:{s:B63_J_stars,i:B63_J_iso,px:[12,78],py:[198,341],xr:[0.1,1.2],t0:0.1},
  K:{s:B63_K_stars,i:B63_K_iso,px:[89,173],py:[198,341],xr:[0.2,1.45],t0:0.2}},
 {t:4,tx:269,ty:189,
  J:{s:B72_J_stars,i:B72_J_iso,px:[200,257.5],py:[197,342],xr:[0.1,1.1],t0:0.1},
  K:{s:B72_K_stars,i:B72_K_iso,px:[265,328],py:[197,342],xr:[0.3,1.35],t0:0.3}},
 {t:5,tx:438,ty:185,
  J:{s:B26_J_stars,i:B26_J_iso,px:[355,418],py:[195,340],xr:[0,1.1],t0:0},
  K:{s:B26_K_stars,i:B26_K_iso,px:[431,506],py:[195,340],xr:[0,1.25],t0:0}},
 {t:6,tx:82,ty:370, first:true,
  J:{s:B76_J_stars,i:B76_J_iso,px:[13,67],py:[378,522],xr:[0.1,1.0],t0:0.1},
  K:{s:B76_K_stars,i:B76_K_iso,px:[82,159.5],py:[378,522],xr:[0.2,1.45],t0:0.2}},
 {t:7,tx:253,ty:374,
  J:{s:B37_J_stars,i:B37_J_iso,px:[180,234],py:[378,522],xr:[0,1.0],t0:0},
  K:{s:B37_K_stars,i:B37_K_iso,px:[248,325.5],py:[378,522],xr:[0,1.25],t0:0}},
 {t:8,tx:433,ty:368,
  J:{s:B43_J_stars,i:B43_J_iso,px:[343,422],py:[377,522],xr:[0.25,1.55],t0:0.3},
  K:{s:B43_K_stars,i:B43_K_iso,px:[430,518.5],py:[377,522],xr:[0.35,1.78],t0:0.4}},
 {t:9,tx:86,ty:554, first:true,
  J:{s:B45_J_stars,i:B45_J_iso,px:[14,74],py:[561,703],xr:[0.1,1.15],t0:0.1},
  K:{s:B45_K_stars,i:B45_K_iso,px:[86,162],py:[561,703],xr:[0.3,1.55],t0:0.3}},
 {t:10,tx:256,ty:553,
  J:{s:B47_J_stars,i:B47_J_iso,px:[181,233],py:[561,703],xr:[0.2,1.1],t0:0.2},
  K:{s:B47_K_stars,i:B47_K_iso,px:[255,330],py:[561,703],xr:[0.4,1.65],t0:0.4}},
 {t:11,tx:435,ty:553,
  J:{s:B49_J_stars,i:B49_J_iso,px:[342,420],py:[562,703],xr:[0.05,1.35],t0:0.1},
  K:{s:B49_K_stars,i:B49_K_iso,px:[428,514],py:[562,703],xr:[0.25,1.6],t0:0.3}}
];

const FONT='"Liberation Sans", Arial, sans-serif';
const data=[], annotations=[];
const layout={width:W,height:H,margin:{l:0,r:0,t:0,b:0},paper_bgcolor:'#fff',plot_bgcolor:'rgba(0,0,0,0)',showlegend:false,font:{family:FONT,color:'#000'}};
let k=0;
function addPanel(p, lab, first){
  k++;
  const xn = k===1?'x':'x'+k, yn = k===1?'y':'y'+k;
  const xa = k===1?'xaxis':'xaxis'+k, ya = k===1?'yaxis':'yaxis'+k;
  layout[xa]={domain:[p.px[0]/W,p.px[1]/W],range:p.xr,anchor:yn,showline:true,linecolor:'#000',linewidth:1,
    ticks:'outside',ticklen:3,tickwidth:1,tickcolor:'#000',tick0:p.t0,dtick:0.4,ticklabelstandoff:1,
    tickfont:{size:6.5,family:FONT,color:'#000'},showgrid:false,zeroline:false,fixedrange:true,
    minor:{tick0:p.t0,dtick:0.2,ticks:'outside',ticklen:2,tickcolor:'#000',showgrid:false}};
  layout[ya]={domain:[1-p.py[1]/H,1-p.py[0]/H],range:[18,6],anchor:xn,showline:true,linecolor:'#000',linewidth:1,
    ticks:'outside',ticklen:3,tickwidth:1,tickcolor:'#000',tickmode:'array',tickvals:yTickVals,
    ticktext:first?yTickText:yTickVals.map(()=>''),tickfont:{size:6.5,family:FONT,color:'#000'},
    showgrid:false,zeroline:false,fixedrange:true};
  data.push({type:'scatter',mode:'lines',xaxis:xn,yaxis:yn,x:p.i.map(q=>q?q[0]:null),y:p.i.map(q=>q?q[1]:null),
    line:{color:'#555',width:1},connectgaps:false,hoverinfo:'skip'});
  data.push({type:'scatter',mode:'markers',xaxis:xn,yaxis:yn,x:p.s.map(q=>q[0]),y:p.s.map(q=>q[1]),
    marker:{size:2.1,color:'#111',line:{width:0}},hoverinfo:'skip'});
  const yPix = p.py[0]+(12-6)/12*(p.py[1]-p.py[0]);
  annotations.push({text:lab[0],xref:'paper',yref:'paper',x:(p.px[0]-5)/W,y:1-yPix/H,
    xanchor:'right',yanchor:'middle',showarrow:false,font:{size:6.5,family:FONT,color:'#000000',weight:'bold'}});
  annotations.push({text:lab[1],xref:'paper',yref:'paper',x:((p.px[0]+p.px[1])/2-4)/W,y:1-Math.min(p.py[1]+17,720)/H,
    xanchor:'center',yanchor:'middle',showarrow:false,font:{size:5.5,family:FONT,color:'#000000',weight:'bold'}});
}
clusters.forEach(c=>{
  addPanel(c.J,['J','J-H'],!!c.first);
  addPanel(c.K,['K','J-K'],false);
  annotations.push({text:clusterNames[c.t],xref:'paper',yref:'paper',x:c.tx/W,y:1-c.ty/H,
    xanchor:'center',yanchor:'middle',showarrow:false,font:{size:9.5,family:FONT,color:'#000',weight:'bold'}});
});
layout.annotations=annotations;
Plotly.newPlot('c',data,layout,{staticPlot:true,displayModeBar:false});
</script></body></html>
